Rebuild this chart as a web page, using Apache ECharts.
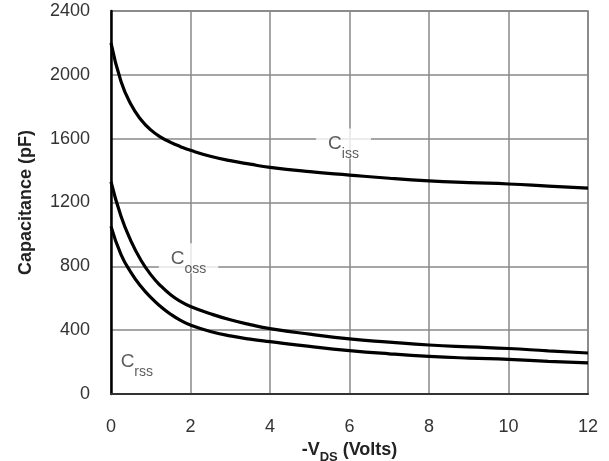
<!DOCTYPE html>
<html>
<head>
<meta charset="utf-8">
<script src="https://cdn.jsdelivr.net/npm/echarts@6/dist/echarts.min.js"></script>
<style>html,body{margin:0;padding:0;background:#fff}#c{width:609px;height:461px}</style>
</head>
<body>
<div id="c"></div>
<script>
// -VDS (Volts)
const vds = [0, 0.25, 0.5, 0.75, 1, 1.25, 1.5, 1.75, 2, 2.5, 3, 3.5, 4, 5, 6, 7, 8, 9, 10, 11, 12];
// Capacitance (pF)
const ciss = [2200, 1960, 1815, 1720, 1655, 1610, 1577, 1550, 1527, 1490, 1462, 1440, 1420, 1393, 1372, 1352, 1336, 1325, 1316, 1303, 1290];
const coss = [1330, 1115, 960, 840, 748, 678, 622, 580, 548, 503, 465, 435, 410, 375, 345, 325, 307, 295, 285, 270, 257];
const crss = [1050, 875, 762, 675, 605, 548, 500, 461, 432, 392, 364, 344, 328, 298, 272, 252, 236, 225, 217, 205, 195];
const xTicks = [0, 2, 4, 6, 8, 10, 12];
const yTicks = [0, 400, 800, 1200, 1600, 2000, 2400];
const curveNames = ['iss', 'oss', 'rss'];
const labelAnchors = [[5.85, 1570], [1.95, 850], [0.65, 200]];

const toPairs = ys => vds.map((x, i) => [x, ys[i]]);
const font = '"Liberation Sans", Arial, sans-serif';

const curveStyle = {color: '#000', width: 3.2};
const lineSeries = [ciss, coss, crss].map(ys => ({
  type: 'line', data: toPairs(ys), smooth: 0.5,
  showSymbol: false, symbol: 'none', lineStyle: curveStyle, z: 3, silent: true
}));

const labelSeries = curveNames.map((n, i) => ({
  type: 'scatter', data: [labelAnchors[i]], symbolSize: 0, silent: true, z: 5,
  label: {
    show: true, position: 'inside',
    formatter: '{c|C}{s|' + n + '}',
    backgroundColor: '#fff',
    padding: i === 2 ? [2, 2] : [6, 12, 4, 12],
    rich: {
      c: {fontFamily: font, fontSize: 19, color: '#333', lineHeight: 20, verticalAlign: 'top'},
      s: {fontFamily: font, fontSize: 14, color: '#333', lineHeight: 14, padding: [13, 0, 0, 0], verticalAlign: 'top'}
    }
  }
}));

const chart = echarts.init(document.getElementById('c'), null, {renderer: 'canvas'});
chart.setOption({
  backgroundColor: '#fff',
  animation: false,
  grid: {left: 111, right: 21, top: 11, bottom: 67, show: true, borderColor: '#777', borderWidth: 1.5,
         containLabel: false, outerBoundsMode: 'none'},
  xAxis: {
    type: 'value', min: 0, max: 12, interval: 2,
    name: '{n|-V}{sub|DS}{n| (Volts)}', nameLocation: 'middle', nameGap: 44,
    nameTextStyle: {
      fontFamily: font, fontSize: 18, fontWeight: 'bold', color: '#222',
      rich: {
        n: {fontFamily: font, fontSize: 18, fontWeight: 'bold', color: '#222', lineHeight: 20, verticalAlign: 'top'},
        sub: {fontFamily: font, fontSize: 13, fontWeight: 'bold', color: '#222', lineHeight: 13, padding: [10, 0, 0, 0], verticalAlign: 'top'}
      }
    },
    axisLine: {show: true, onZero: false, lineStyle: {color: '#333', width: 2}},
    axisTick: {show: false},
    axisLabel: {
      fontFamily: font, fontSize: 18, color: '#333', margin: 24,
      formatter: v => xTicks.includes(v) ? String(v) : ''
    },
    splitLine: {show: true, lineStyle: {color: '#888', width: 1.5}}
  },
  yAxis: {
    type: 'value', min: 0, max: 2400, interval: 400,
    name: 'Capacitance (pF)', nameLocation: 'middle', nameGap: 76,
    nameTextStyle: {fontFamily: font, fontSize: 18, fontWeight: 'bold', color: '#222'},
    axisLine: {show: true, onZero: false, lineStyle: {color: '#000', width: 2.5}},
    axisTick: {show: false},
    axisLabel: {
      fontFamily: font, fontSize: 18, color: '#333', margin: 21,
      formatter: v => yTicks.includes(v) ? String(v) : ''
    },
    splitLine: {show: true, lineStyle: {color: '#888', width: 1.5}}
  },
  series: lineSeries.concat(labelSeries)
});
</script>
</body>
</html>
